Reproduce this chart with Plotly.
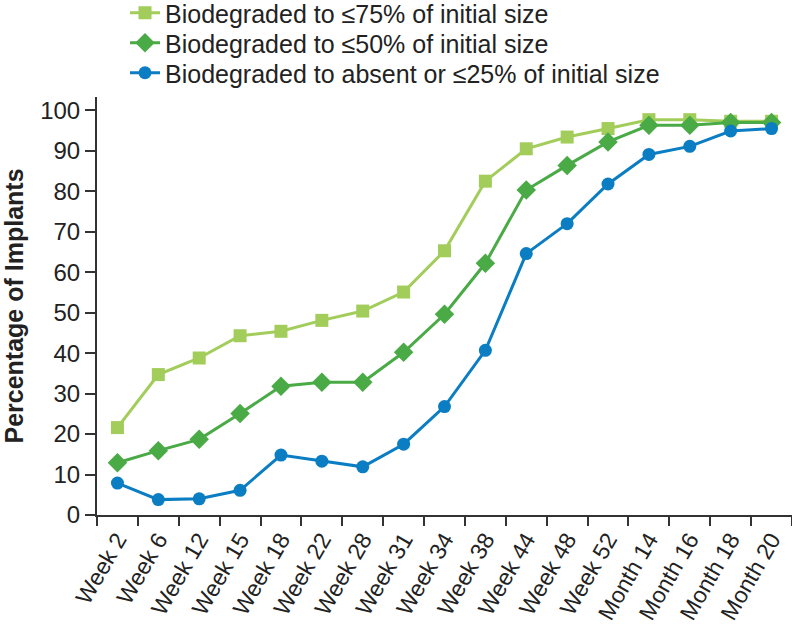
import plotly.graph_objects as go

categories = ["Week 2", "Week 6", "Week 12", "Week 15", "Week 18", "Week 22", "Week 28",
              "Week 31", "Week 34", "Week 38", "Week 44", "Week 48", "Week 52",
              "Month 14", "Month 16", "Month 18", "Month 20"]

le75 = [21.6, 34.7, 38.8, 44.3, 45.4, 48.1, 50.4, 55.1, 65.3, 82.5, 90.5, 93.4, 95.5, 97.7, 97.7, 97.3, 97.3]
le50 = [12.9, 15.9, 18.7, 25.1, 31.8, 32.8, 32.8, 40.2, 49.6, 62.2, 80.3, 86.4, 92.2, 96.3, 96.3, 97.0, 97.0]
le25 = [7.9, 3.8, 4.0, 6.1, 14.8, 13.3, 11.9, 17.5, 26.8, 40.7, 64.6, 72.0, 81.8, 89.1, 91.1, 94.9, 95.5]

names = ["Biodegraded to ≤75% of initial size",
         "Biodegraded to ≤50% of initial size",
         "Biodegraded to absent or ≤25% of initial size"]

FONT = "Liberation Sans, Arial, sans-serif"
TXT = "#222222"
AX = "#333333"

W, H = 792, 631
ML, MR, MT, MB = 97, 0, 97, 116

fig = go.Figure()
fig.add_trace(go.Scatter(x=categories, y=le75, name=names[0], mode="lines+markers",
                         legend="legend",
                         line=dict(color="#A2CD5A", width=3),
                         marker=dict(symbol="square", size=13, color="#A2CD5A")))
fig.add_trace(go.Scatter(x=categories, y=le50, name=names[1], mode="lines+markers",
                         legend="legend2",
                         line=dict(color="#4AAA46", width=3),
                         marker=dict(symbol="diamond", size=15, color="#4AAA46")))
fig.add_trace(go.Scatter(x=categories, y=le25, name=names[2], mode="lines+markers",
                         legend="legend3",
                         line=dict(color="#0B7DC2", width=3),
                         marker=dict(symbol="circle", size=13, color="#0B7DC2")))

def leg(ypix):
    return dict(x=(125 - ML) / (W - ML - MR), y=1 - ypix / H, xref="paper", yref="container",
                xanchor="left", yanchor="middle",
                font=dict(family=FONT, size=25, color=TXT),
                bgcolor="rgba(0,0,0,0)", borderwidth=0)

fig.update_layout(
    width=W, height=H,
    margin=dict(l=ML, r=MR, t=MT, b=MB, autoexpand=False),
    paper_bgcolor="white", plot_bgcolor="white",
    font=dict(family=FONT, size=23, color=TXT),
    showlegend=True,
    legend=leg(13),
    legend2=leg(43),
    legend3=leg(73),
    xaxis=dict(type="category", range=[-0.5, 16.5], tickson="boundaries",
               ticks="outside", ticklen=9, tickwidth=2, tickcolor=AX,
               showline=True, linewidth=2, linecolor=AX,
               showgrid=False, zeroline=False, tickangle=-60,
               tickfont=dict(family=FONT, size=23, color=TXT)),
    yaxis=dict(range=[0, 103.3], tickvals=list(range(0, 101, 10)),
               ticks="outside", ticklen=10, tickwidth=2, tickcolor=AX,
               showline=True, linewidth=2, linecolor=AX,
               showgrid=False, zeroline=False,
               tickfont=dict(family=FONT, size=24, color=TXT),
               title=dict(text="<b>Percentage of Implants</b>",
                          font=dict(family=FONT, size=25, color=TXT))),
)

# remove the browser's default 8px page margin so the figure sits at the window origin
fig.write_html("out.html", config={"displayModeBar": False},
               post_script="document.body.style.margin='0';")
